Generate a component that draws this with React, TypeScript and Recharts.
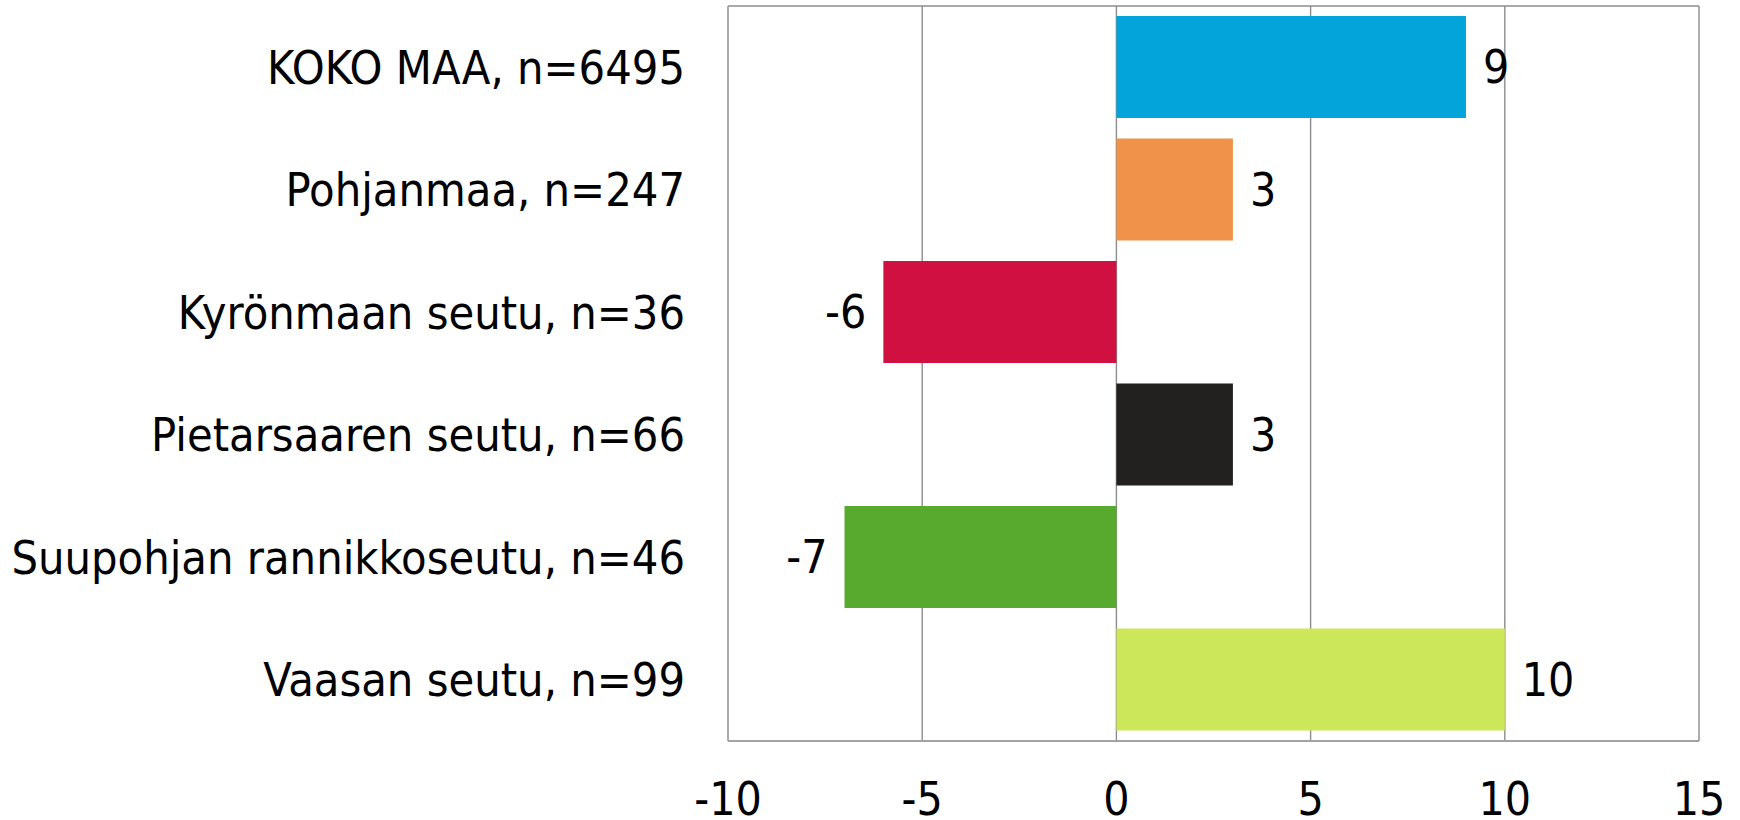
import React from "react";
import { BarChart, Bar, XAxis, YAxis, CartesianGrid, Cell, LabelList } from "recharts";

const categories = [
  "KOKO MAA, n=6495",
  "Pohjanmaa, n=247",
  "Kyrönmaan seutu, n=36",
  "Pietarsaaren seutu, n=66",
  "Suupohjan rannikkoseutu, n=46",
  "Vaasan seutu, n=99",
];
const values = [9, 3, -6, 3, -7, 10];
const colors = ["#02A4D9", "#F0924A", "#CF1040", "#22211F", "#58AA2E", "#CDE75A"];
const xTicks = [-10, -5, 0, 5, 10, 15];

const data = categories.map((name, i) => ({ name, value: values[i] }));

const FONT = "'DejaVu Sans Condensed', 'DejaVu Sans', sans-serif";

export default function App() {
  return (
    <div style={{ position: "absolute", left: 0, top: 0, width: 1740, height: 820, background: "#fff" }}>
      <BarChart
        width={1740}
        height={820}
        data={data}
        layout="vertical"
        margin={{ top: 6, right: 41, bottom: 0, left: 0 }}
        barSize={102}
      >
        <CartesianGrid
          stroke="#8c8c8c"
          strokeWidth={1.4}
          horizontal={true}
          vertical={true}
          horizontalPoints={[6, 741]}
        />
        <XAxis
          type="number"
          domain={[-10, 15]}
          ticks={xTicks}
          interval={0}
          height={79}
          axisLine={{ stroke: "#a0a0a0", strokeWidth: 1.5 }}
          tickLine={false}
          tickMargin={35}
          tick={{ fill: "#000", fontSize: 46, fontFamily: FONT }}
        />
        <YAxis
          type="category"
          dataKey="name"
          width={728}
          axisLine={{ stroke: "#a8a8a8", strokeWidth: 1.5 }}
          tickLine={false}
          tickMargin={37}
          interval={0}
          tick={{ fill: "#000", fontSize: 46.5, fontFamily: FONT }}
        />
        <Bar dataKey="value" isAnimationActive={false}>
          {data.map((d, i) => (
            <Cell key={d.name} fill={colors[i]} />
          ))}
          <LabelList
            dataKey="value"
            position="right"
            offset={17}
            style={{ fill: "#000", fontSize: 46, fontFamily: FONT }}
          />
        </Bar>
      </BarChart>
    </div>
  );
}
